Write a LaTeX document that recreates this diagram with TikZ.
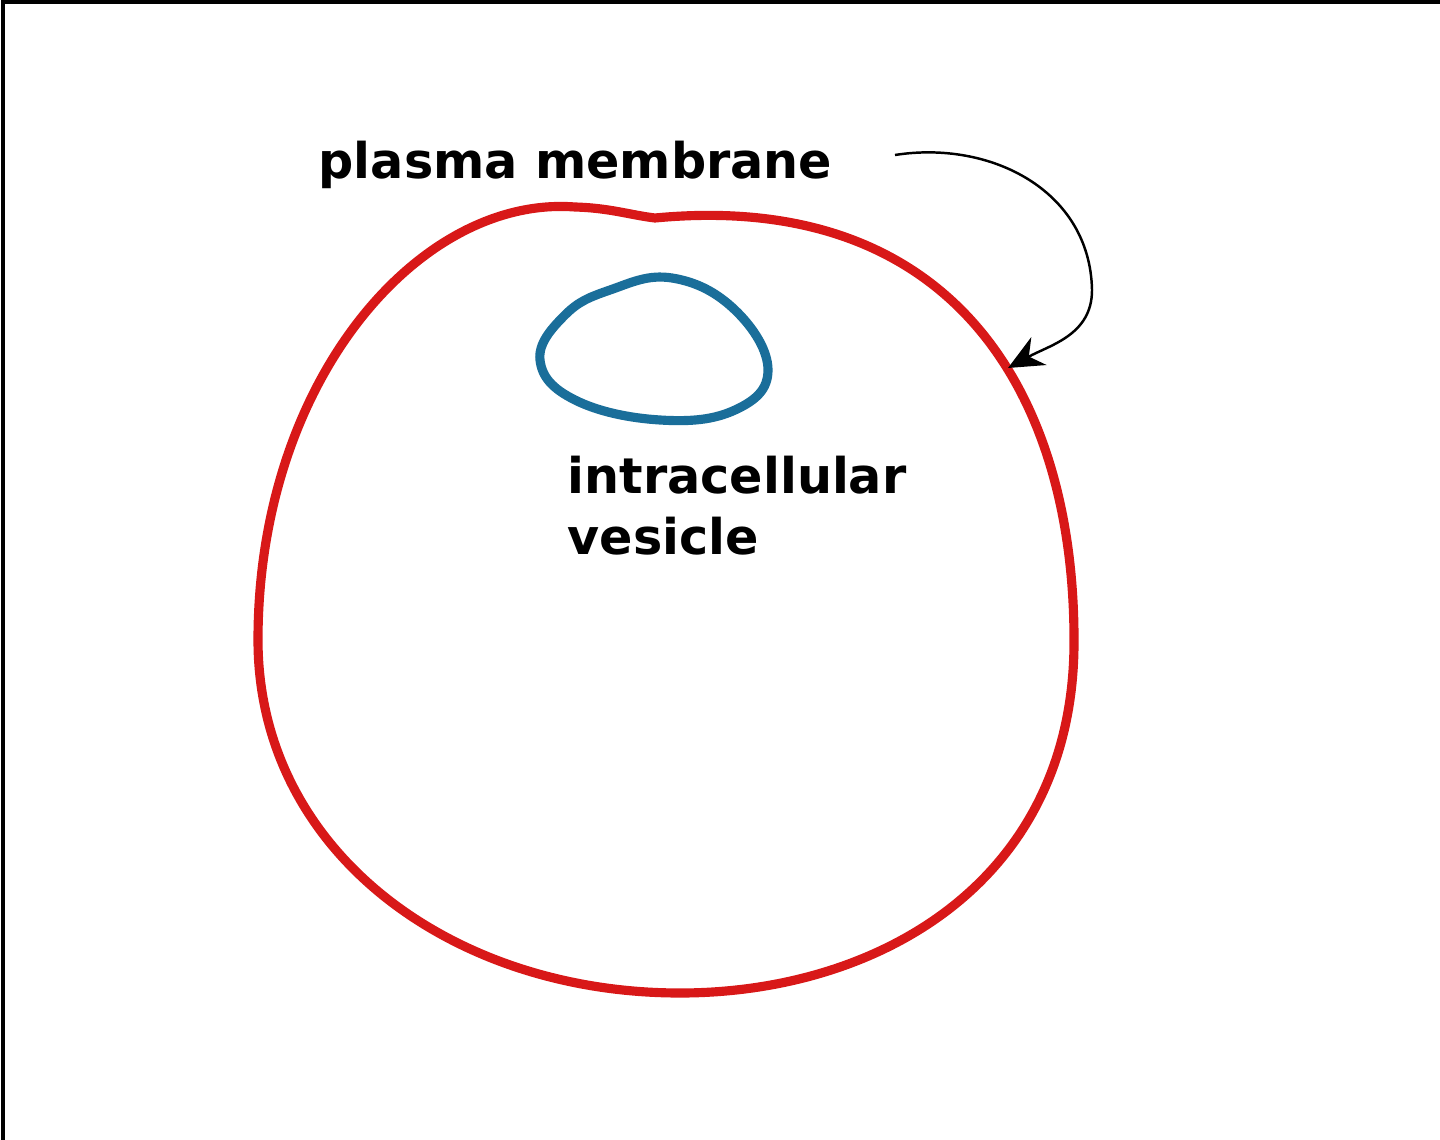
\documentclass[tikz,border=0pt]{standalone}
\usepackage{fontspec}
\setmainfont{DejaVu Sans}
\usetikzlibrary{arrows.meta}
\definecolor{cellred}{HTML}{D81818}
\definecolor{vesblue}{HTML}{1A6E9A}
\begin{document}
\begin{tikzpicture}[x=0.01cm,y=-0.01cm,
  lbl/.style={font=\bfseries\fontsize{14}{17.5}\selectfont,inner sep=0pt,anchor=north west,align=left}]
\useasboundingbox (0,0) rectangle (1440,1140);
\fill[white] (0,0) rectangle (1440,1140);
\draw[line width=1.2pt] (3,1140) -- (3,2) -- (1440,2);
\draw[cellred,line width=2.6pt] (655,218) .. controls (950,190) and (1074,390) .. (1074,640)
 .. controls (1075,880) and (880,993) .. (680,993)
 .. controls (450,993) and (258,850) .. (258,640)
 .. controls (258,380) and (420,195) .. (575,207)
 .. controls (610,208) and (630,215) .. cycle;
\draw[vesblue,line width=2.6pt] plot[smooth cycle,tension=0.7] coordinates {
 (610,290) (672,278) (735,310) (768,370) (735,410) (660,420) (575,400) (540,360) (565,315)};
\node[lbl] (pm) at (318,140) {plasma membrane};
\node[lbl] (iv) at (567,455) {intracellular\\vesicle};
\coordinate (tip) at (1008,368);
\draw[-{Stealth[length=10pt,width=9pt]},line width=0.7pt] (895,155) .. controls (990,140) and (1090,190) .. (1092,290) .. controls (1092,335) and (1050,345) .. (tip);
\end{tikzpicture}
\end{document}
